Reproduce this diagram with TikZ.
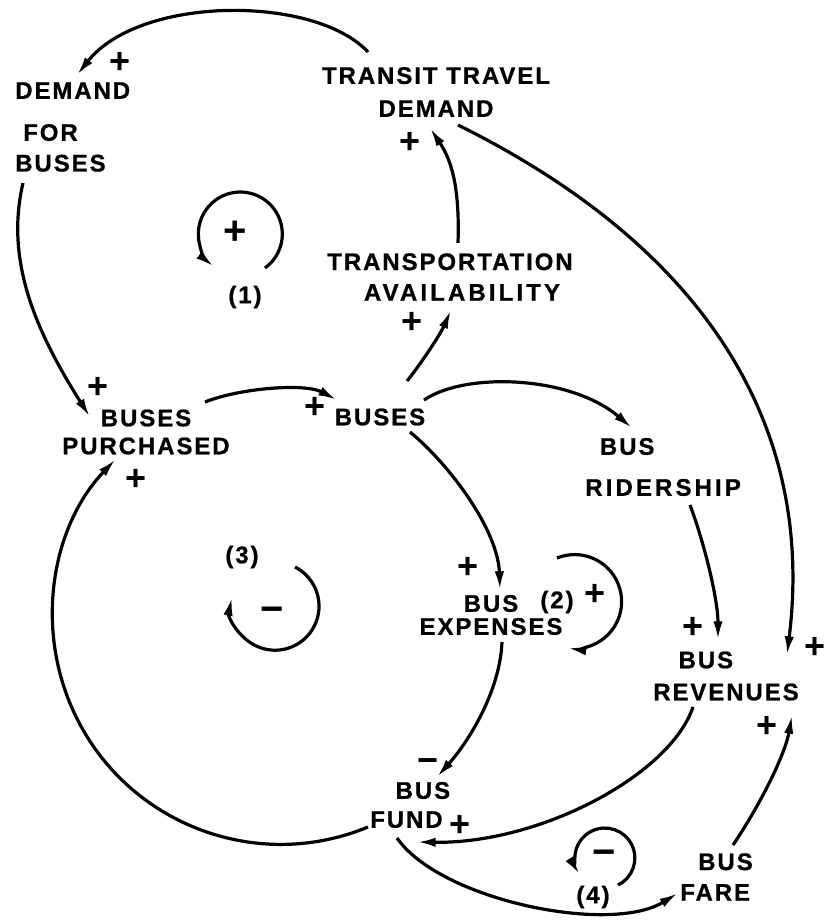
\documentclass[tikz,border=0pt]{standalone}
\usepackage{fontspec}
\usetikzlibrary{arrows.meta}
\newfontfamily\lblfam{Liberation Sans}[LetterSpace=8, BoldFeatures={FakeBold=0.8}]
\newfontfamily\sgnfam{Liberation Sans}
\newcommand\lblfont{\lblfam\bfseries\fontsize{18}{23}\selectfont}
\newcommand\sgnfont{\sgnfam\bfseries\fontsize{27}{30}\selectfont}
\newcommand\bigsgnfont{\sgnfam\bfseries\fontsize{30}{32}\selectfont}
\tikzset{
  lbl/.style={font=\lblfont, inner sep=0pt},
  sgn/.style={font=\sgnfont, inner sep=0pt},
  bigsgn/.style={font=\bigsgnfont, inner sep=0pt},
  arr/.style={-{Latex[length=14pt,width=7pt]}, line width=2.4pt}
}
\begin{document}
\begin{tikzpicture}[x=0.75pt,y=-0.75pt]
\fill[white] (0,0) rectangle (825,922);
\useasboundingbox (0,0) rectangle (825,922);

% variables
\node[lbl, align=left, anchor=west] (dfb) at (15,127) {DEMAND\\[8.5pt]\hspace*{6pt}FOR\\BUSES};
\node[lbl, align=center] (tdem) at (436,92) {TRANSIT TRAVEL\\[1.75pt]DEMAND};
\node[lbl, align=center] (tav) at (450,277) {TRANSPORTATION\\\hspace*{18pt}{\addfontfeature{LetterSpace=13}AVAILABILITY}};
\node[lbl, align=center] (bp) at (146,432) {BUSES\\[-2pt]PURCHASED};
\node[lbl] (buses) at (380,417) {BUSES};
\node[lbl, align=left, anchor=west] (brid) at (585,467) {\hspace*{11pt}BUS\\[7.75pt]{\addfontfeature{LetterSpace=13}RIDERSHIP}};
\node[lbl, align=center] (bexp) at (491,615) {BUS\\[-5.75pt]EXPENSES};
\node[lbl, align=left, anchor=west] (bfund) at (370,805) {\hspace*{19pt}BUS\\[-1.25pt]FUND};
\node[lbl, align=left, anchor=west] (brev) at (653,676) {\hspace*{19pt}BUS\\[1pt]REVENUES};
\node[lbl, align=left, anchor=west] (bfare) at (680,877) {\hspace*{13.5pt}BUS\\FARE};

% causal links
\draw[arr] ([shift={(-68,-40)}]tdem.center) .. controls +(-53,-57) and +(63,-80) .. ([shift={(62,-52)}]dfb.west);
\draw[arr] ([shift={(8,-34)}]tav.center) .. controls +(2,-60) and +(20,30) .. ([shift={(-6,36)}]tdem.center);
\draw[arr] ([shift={(22,33)}]tdem.center) .. controls +(252,125) and +(28,-225) .. ([shift={(134,-21)}]brev.west);
\draw[arr] ([shift={(8,56)}]dfb.west) .. controls +(-18,77) and +(-55,-87) .. ([shift={(-56,-15)}]bp.center);
\draw[arr] ([shift={(59,-30)}]bp.center) .. controls +(35,-14) and +(-32,-17) .. ([shift={(-43,-17)}]buses.center);
\draw[arr] ([shift={(-2,22)}]bfund.west) arc[start angle=67.5, end angle=223.6, radius=228];
\draw[arr] ([shift={(27,-36)}]buses.center) .. controls +(13,-16) and +(-11,25) .. ([shift={(1,33)}]tav.center);
\draw[arr] ([shift={(44,-17)}]buses.center) .. controls +(41,-28) and +(-62,-53) .. ([shift={(47,-39)}]brid.west);
\draw[arr] ([shift={(105,38)}]brid.west) .. controls +(15,40) and +(0,-40) .. ([shift={(65,-36)}]brev.west);
\draw[arr] ([shift={(30,15)}]buses.center) .. controls +(40,33) and +(-2,-60) .. ([shift={(9,-25)}]bexp.center);
\draw[arr] ([shift={(11,27)}]bexp.center) .. controls +(-2,48) and +(33,-37) .. ([shift={(67,-28)}]bfund.west);
\draw[arr] ([shift={(40,31)}]brev.west) .. controls +(-23,68) and +(123,2) .. ([shift={(47,37)}]bfund.west);
\draw[arr] ([shift={(27,33)}]bfund.west) .. controls +(43,62) and +(-68,42) .. ([shift={(-2,16)}]bfare.west);
\draw[arr] ([shift={(53,-32)}]bfare.west) .. controls +(27,-40) and +(-7,40) .. ([shift={(139,39)}]brev.west);

% loop markers
\coordinate (l1) at (265,268);
\coordinate (l2) at (557,558);
\coordinate (l3) at (295,567);
\coordinate (l4) at (618,885);
\draw[arr] (l1) arc[start angle=54, end angle=-231, radius=42];
\draw[arr] (l2) arc[start angle=248, end angle=458.5, radius=47];
\draw[arr] (l3) arc[start angle=-63, end angle=192, radius=44];
\draw[arr] (l4) arc[start angle=64, end angle=-213, radius=30];

% polarity signs
\node[sgn] (p1) at (120,63) {+};
\node[sgn] (p2) at (410,143) {+};
\node[sgn] (p3) at (815,648) {+};
\node[sgn] (p4) at (98,388) {+};
\node[sgn] (p5) at (136,480) {+};
\node[sgn] (p6) at (315,408) {+};
\node[sgn] (p7) at (412,323) {+};
\node[sgn] (p8) at (693,628) {+};
\node[sgn] (p9) at (468,568) {+};
\node[sgn] (p10) at (595,595) {+};
\node[sgn] (p11) at (428,766) {−};
\node[sgn] (p12) at (460,826) {+};
\node[sgn] (p13) at (767,727) {+};

% loop labels
\node[bigsgn] (s1) at (235,233) {+};
\node[lbl] (n1) at (245,297) {(1)};
\node[lbl] (n2) at (557,602) {(2)};
\node[bigsgn] (s3) at (272,615) {−};
\node[lbl] (n3) at (242,557) {(3)};
\node[bigsgn] (s4) at (604,858) {−};
\node[lbl] (n4) at (593,897) {(4)};
\end{tikzpicture}
\end{document}
